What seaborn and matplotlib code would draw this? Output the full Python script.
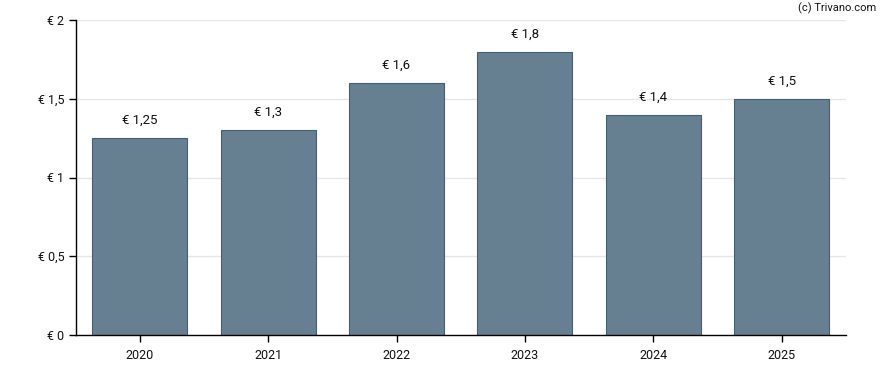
import matplotlib
matplotlib.use('Agg')
import matplotlib.pyplot as plt
import seaborn as sns
import pandas as pd

# Dividend per year
years = ['2020', '2021', '2022', '2023', '2024', '2025']
values = [1.25, 1.3, 1.6, 1.8, 1.4, 1.5]
yticks = [0, 0.5, 1, 1.5, 2]


def eur(v):
    s = f'{v:g}'.replace('.', ',')
    return f'€ {s}'


sns.set_style('white')
plt.rcParams['font.family'] = ['Roboto', 'DejaVu Sans']

df = pd.DataFrame({'year': years, 'value': values})

fig = plt.figure(figsize=(8.88, 3.7), dpi=100)
ax = fig.add_axes([75.5 / 888, 35 / 370, (846 - 75.5) / 888, 315 / 370])

sns.barplot(data=df, x='year', y='value', color='#667f91', saturation=1,
            width=0.74, edgecolor='#44606f', linewidth=0.8, ax=ax, zorder=2)

ax.set_xlim(-0.5, 5.5)
ax.set_ylim(0, 2)
ax.set_yticks(yticks)
ax.set_yticklabels([eur(t) for t in yticks])
ax.yaxis.grid(True, color='#e6e6e6', linewidth=1, zorder=0)
ax.set_axisbelow(True)
ax.set_xlabel('')
ax.set_ylabel('')

for side in ['top', 'right']:
    ax.spines[side].set_visible(False)
for side in ['left', 'bottom']:
    ax.spines[side].set_color('black')
    ax.spines[side].set_linewidth(1)

ax.tick_params(axis='both', which='both', length=5, width=1, color='black',
               labelsize=9, labelcolor='#111111', direction='out')
ax.tick_params(axis='x', pad=5)
ax.tick_params(axis='y', pad=3)
ax.tick_params(left=True, bottom=True)

for i, v in enumerate(values):
    ax.annotate(eur(v), (i, v), xytext=(0, 8), textcoords='offset points',
                ha='center', va='bottom', fontsize=9.5, color='#111111')

fig.text(876 / 888, 1 - 8 / 370, '(c) Trivano.com', ha='right', va='center',
         fontsize=8, color='#111111')

fig.savefig('out.png', dpi=100)
